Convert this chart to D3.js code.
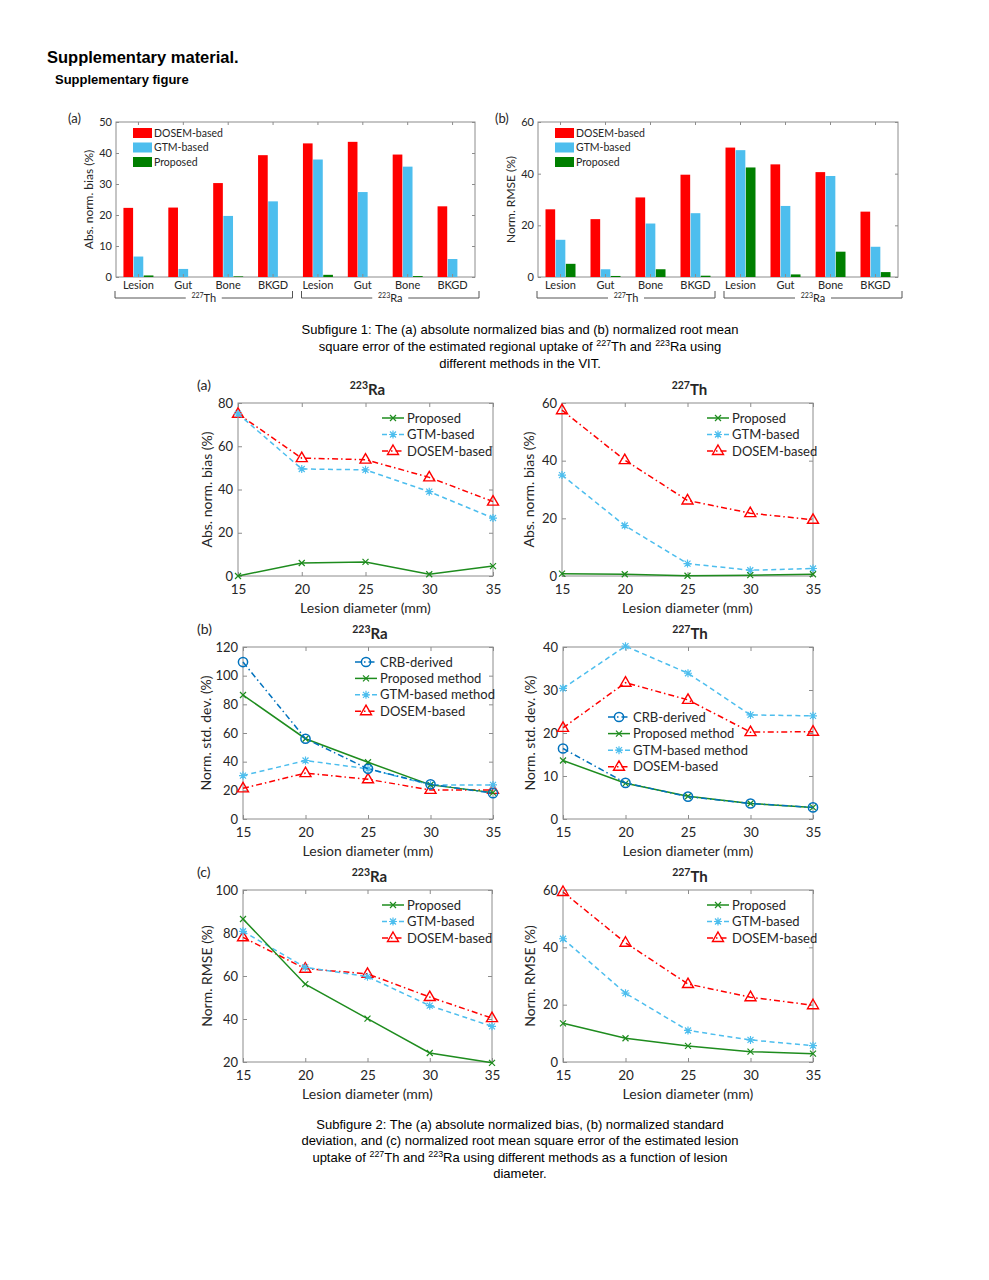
<!DOCTYPE html>
<html>
<head>
<meta charset="utf-8">
<style>
  body { margin: 0; background: #fff; }
  svg text { font-family: Lato, "Open Sans", sans-serif; fill: #262626; }
  svg text.doc { font-family: "Liberation Sans", Arial, sans-serif; fill: #000; }
</style>
</head>
<body>
<svg id="fig" width="989" height="1280"></svg>
<script src="https://d3js.org/d3.v7.min.js"></script>
<script>
// ---------------- data ----------------
// subfigure 1 (bar charts)
const regions = ["Lesion", "Gut", "Bone", "BKGD", "Lesion", "Gut", "Bone", "BKGD"];
const barMethods = ["DOSEM-based", "GTM-based", "Proposed"];
const biasDosem    = [22.3, 22.4, 30.3, 39.3, 43.1, 43.6, 39.5, 22.8];
const biasGtm      = [6.6, 2.6, 19.7, 24.4, 37.9, 27.4, 35.6, 5.8];
const biasProposed = [0.5, 0, 0.2, 0, 0.7, 0, 0.3, 0];
const rmseDosem    = [26.2, 22.4, 30.8, 39.6, 50.1, 43.6, 40.6, 25.3];
const rmseGtm      = [14.4, 3.0, 20.7, 24.7, 49.1, 27.5, 39.1, 11.7];
const rmseProposed = [5.1, 0.4, 3.0, 0.5, 42.4, 1.0, 9.8, 1.9];
const barTicksBias = [0, 10, 20, 30, 40, 50];
const barTicksRmse = [0, 20, 40, 60];

// subfigure 2 (line charts)
const diameters = [15, 20, 25, 30, 35];
const raBiasProposed = [0, 6.0, 6.5, 0.8, 4.6];
const raBiasGtm      = [75.0, 49.5, 49.1, 39.0, 26.8];
const raBiasDosem    = [75.0, 54.5, 53.8, 45.6, 34.4];
const thBiasProposed = [0.8, 0.6, 0.1, 0.3, 0.6];
const thBiasGtm      = [35.0, 17.5, 4.3, 2.0, 2.6];
const thBiasDosem    = [57.5, 40.2, 26.2, 21.8, 19.5];
const raStdCrb       = [109.5, 56.0, 35.0, 24.2, 18.0];
const raStdProposed  = [86.5, 56.0, 39.6, 23.8, 18.4];
const raStdGtm       = [30.3, 40.8, 35.0, 23.8, 23.8];
const raStdDosem     = [21.4, 32.0, 27.7, 20.3, 20.3];
const thStdCrb       = [16.4, 8.4, 5.2, 3.6, 2.7];
const thStdProposed  = [13.6, 8.3, 5.3, 3.6, 2.7];
const thStdGtm       = [30.4, 40.2, 33.9, 24.2, 24.0];
const thStdDosem     = [21.2, 31.7, 27.7, 20.2, 20.3];
const raRmseProposed = [86.5, 56.2, 40.2, 24.2, 19.6];
const raRmseGtm      = [80.8, 64.0, 59.7, 46.2, 36.6];
const raRmseDosem    = [78.0, 63.4, 61.0, 50.2, 40.4];
const thRmseProposed = [13.5, 8.3, 5.6, 3.6, 2.9];
const thRmseGtm      = [43.0, 24.0, 11.0, 7.7, 5.7];
const thRmseDosem    = [59.3, 41.6, 27.2, 22.6, 19.8];
const ticks80 = [0, 20, 40, 60, 80];
const ticks60 = [0, 20, 40, 60];
const ticks120 = [0, 20, 40, 60, 80, 100, 120];
const ticks40 = [0, 10, 20, 30, 40];
const ticks100 = [20, 40, 60, 80, 100];

// ---------------- drawing ----------------
const svg = d3.select("#fig");
const AX = "#8c8c8c";
const RED = "#ff0000", SKY = "#4dbeee", GRN = "#007f00", NAVY = "#0072bd", LGRN = "#1e8c1e";

// text with superscript parts: parts = [[str, isSup], ...]
function rich(t, parts, supSize, shift) {
  let up = false;
  parts.forEach(([s, isSup]) => {
    const sp = t.append("tspan").text(s);
    if (isSup) {
      sp.attr("font-size", supSize);
      if (!up) { sp.attr("dy", -shift); up = true; }
    } else if (up) { sp.attr("dy", shift); up = false; }
  });
  return t;
}

function docText(x, y, size, weight, anchor, parts) {
  const t = svg.append("text").attr("class", "doc").attr("x", x).attr("y", y)
    .attr("font-size", size).attr("font-weight", weight).attr("text-anchor", anchor);
  rich(t, parts, size * 0.68, size * 0.38);
}

function styleAxis(a) {
  a.select(".domain").remove();
  a.selectAll(".tick line").attr("stroke", AX);
}

function box(g, l, r, t, b) {
  g.append("rect").attr("x", l).attr("y", t).attr("width", r - l).attr("height", b - t)
    .attr("fill", "#fff").attr("stroke", AX).attr("stroke-width", 1);
}

function barChart(c) {
  const g = svg.append("g");
  const x = d3.scaleBand().domain(d3.range(regions.length)).range([c.l, c.r]);
  const xi = d3.scaleBand().domain(barMethods).range([-15, 15]).paddingInner(0.05);
  const y = d3.scaleLinear().domain([0, c.ymax]).range([c.b, c.t]);
  box(g, c.l, c.r, c.t, c.b);

  const colors = [RED, SKY, GRN];
  barMethods.forEach((m, k) => {
    g.append("g").selectAll("rect").data(c.series[k]).join("rect")
      .attr("x", (d, i) => x(i) + x.bandwidth() / 2 + xi(m))
      .attr("y", d => y(d))
      .attr("width", xi.bandwidth())
      .attr("height", d => c.b - y(d))
      .attr("fill", colors[k]);
  });

  const yl = g.append("g").attr("transform", `translate(${c.l},0)`)
    .call(d3.axisLeft(y).tickValues(c.ticks).tickSize(-3).tickPadding(4));
  yl.selectAll("text").attr("font-size", 11).attr("fill", "#262626");
  styleAxis(yl);
  const yr = g.append("g").attr("transform", `translate(${c.r},0)`)
    .call(d3.axisRight(y).tickValues(c.ticks).tickSize(-3).tickFormat(""));
  styleAxis(yr);
  const xb = g.append("g").attr("transform", `translate(0,${c.b})`)
    .call(d3.axisBottom(x).tickSize(-3).tickPadding(4).tickFormat(i => regions[i]));
  xb.selectAll("text").attr("font-size", 11).attr("fill", "#262626");
  styleAxis(xb);
  const xt = g.append("g").attr("transform", `translate(0,${c.t})`)
    .call(d3.axisTop(x).tickSize(-3).tickFormat(""));
  styleAxis(xt);

  // isotope brackets under the categories
  const groups = [["227", "Th", 0, 3], ["223", "Ra", 4, 7]];
  const by = c.b + 21;
  groups.forEach(([num, el, i0, i1], k) => {
    const x0 = x(i0) + (k === 0 ? -1 : 6);
    const x1 = x(i1) + x.bandwidth() + (k === 0 ? -3 : 4);
    g.append("path").attr("d", `M${x0},${by - 7}V${by}H${x1}V${by - 7}`)
      .attr("fill", "none").attr("stroke", "#555").attr("stroke-width", 1);
    const cx = (x0 + x1) / 2;
    g.append("rect").attr("x", cx - 18).attr("y", by - 6).attr("width", 36).attr("height", 12).attr("fill", "#fff");
    const t = g.append("text").attr("x", cx).attr("y", by + 4).attr("text-anchor", "middle").attr("font-size", 11);
    rich(t, [[num, true], [el, false]], 7, 4);
  });

  // legend
  barMethods.forEach((m, k) => {
    const yy = c.legY + k * 14.5;
    g.append("rect").attr("x", c.legX).attr("y", yy - 5).attr("width", 19).attr("height", 10).attr("fill", colors[k]);
    g.append("text").attr("x", c.legX + 21).attr("y", yy + 3.5).attr("font-size", 10.5).text(m);
  });

  g.append("text").attr("transform", `translate(${c.l - 27},${(c.t + c.b) / 2}) rotate(-90)`)
    .attr("text-anchor", "middle").attr("dy", "0.35em").attr("font-size", 12).text(c.ylabel);
  g.append("text").attr("x", c.tagX).attr("y", c.t + 1).attr("font-size", 13).text(c.tag);
}

function marker(g, type, color, cx, cy) {
  const p = {
    cross: "M-3,-3L3,3M-3,3L3,-3",
    star: "M-4,0H4M0,-4V4M-3,-3L3,3M-3,3L3,-3",
    tri: "M0,-6L5.5,3.5L-5.5,3.5Z"
  };
  if (type === "circle") {
    g.append("circle").attr("cx", cx).attr("cy", cy).attr("r", 4.6)
      .attr("fill", "none").attr("stroke", color).attr("stroke-width", 1.5);
  } else {
    g.append("path").attr("d", p[type]).attr("transform", `translate(${cx},${cy})`)
      .attr("fill", "none").attr("stroke", color).attr("stroke-width", type === "tri" ? 1.4 : 1.2);
  }
}

function lineChart(c) {
  const g = svg.append("g");
  const x = d3.scaleLinear().domain([15, 35]).range([c.l, c.r]);
  const y = d3.scaleLinear().domain([c.ticks[0], c.ticks[c.ticks.length - 1]]).range([c.b, c.t]);
  box(g, c.l, c.r, c.t, c.b);

  const yl = g.append("g").attr("transform", `translate(${c.l},0)`)
    .call(d3.axisLeft(y).tickValues(c.ticks).tickSize(-4).tickPadding(5));
  yl.selectAll("text").attr("font-size", 13).attr("fill", "#262626");
  styleAxis(yl);
  const yr = g.append("g").attr("transform", `translate(${c.r},0)`)
    .call(d3.axisRight(y).tickValues(c.ticks).tickSize(-4).tickFormat(""));
  styleAxis(yr);
  const xb = g.append("g").attr("transform", `translate(0,${c.b})`)
    .call(d3.axisBottom(x).tickValues(diameters).tickSize(-4).tickPadding(8));
  xb.selectAll("text").attr("font-size", 13.5).attr("fill", "#262626");
  styleAxis(xb);
  const xt = g.append("g").attr("transform", `translate(0,${c.t})`)
    .call(d3.axisTop(x).tickValues(diameters).tickSize(-4).tickFormat(""));
  styleAxis(xt);

  const line = d3.line().x((d, i) => x(diameters[i])).y(d => y(d));
  // draw last legend entry first so that proposed/CRB sit on top like the source
  const order = c.series.map((s, i) => i).reverse();
  order.forEach(i => {
    const s = c.series[i];
    g.append("path").attr("d", line(s.values)).attr("fill", "none")
      .attr("stroke", s.color).attr("stroke-width", 1.5).attr("stroke-dasharray", s.dash || null);
    s.values.forEach((v, j) => marker(g, s.marker, s.color, x(diameters[j]), y(v)));
  });

  // legend
  c.series.forEach((s, k) => {
    const yy = c.legY + k * c.legDy;
    g.append("line").attr("x1", c.legX).attr("x2", c.legX + 22).attr("y1", yy).attr("y2", yy)
      .attr("stroke", s.color).attr("stroke-width", 1.5).attr("stroke-dasharray", s.dash || null);
    marker(g, s.marker, s.color, c.legX + 11, yy);
    g.append("text").attr("x", c.legX + 25).attr("y", yy + 4.5).attr("font-size", 13).text(s.name);
  });

  g.append("text").attr("transform", `translate(${c.l - c.yoff},${(c.t + c.b) / 2}) rotate(-90)`)
    .attr("text-anchor", "middle").attr("dy", "0.35em").attr("font-size", 14).text(c.ylabel);
  g.append("text").attr("x", (c.l + c.r) / 2).attr("y", c.b + 37).attr("text-anchor", "middle")
    .attr("font-size", 14).text("Lesion diameter (mm)");
  const tt = g.append("text").attr("x", (c.l + c.r) / 2 + 2).attr("y", c.t - 8).attr("text-anchor", "middle")
    .attr("font-size", 15).attr("font-weight", "bold");
  rich(tt, [[c.iso[0], true], [c.iso[1], false]], 10.5, 6);
  if (c.tag) g.append("text").attr("x", 197).attr("y", c.t - 13).attr("font-size", 14).text(c.tag);
}

// ---------------- page ----------------
docText(47, 63, 16.5, "bold", "start", [["Supplementary material.", false]]);
docText(55, 84, 13, "bold", "start", [["Supplementary figure", false]]);

barChart({ l: 116, r: 475, t: 122, b: 277, ymax: 50, ticks: barTicksBias,
  series: [biasDosem, biasGtm, biasProposed], ylabel: "Abs. norm. bias (%)",
  legX: 133, legY: 133, tag: "(a)", tagX: 68 });
barChart({ l: 538, r: 898, t: 122, b: 277, ymax: 60, ticks: barTicksRmse,
  series: [rmseDosem, rmseGtm, rmseProposed], ylabel: "Norm. RMSE (%)",
  legX: 555, legY: 133, tag: "(b)", tagX: 495 });

docText(520, 334, 13, "normal", "middle", [["Subfigure 1: The (a) absolute normalized bias and (b) normalized root mean", false]]);
docText(520, 351, 13, "normal", "middle", [["square error of the estimated regional uptake of ", false], ["227", true], ["Th and ", false], ["223", true], ["Ra using", false]]);
docText(520, 368, 13, "normal", "middle", [["different methods in the VIT.", false]]);

const DASH = "5,3.5", DASHDOT = "6,3,1.5,3";
function three(p, gt, dm) {
  return [
    { name: "Proposed", values: p, color: LGRN, marker: "cross" },
    { name: "GTM-based", values: gt, color: SKY, marker: "star", dash: DASH },
    { name: "DOSEM-based", values: dm, color: RED, marker: "tri", dash: DASHDOT }
  ];
}
function four(cr, p, gt, dm) {
  return [
    { name: "CRB-derived", values: cr, color: NAVY, marker: "circle", dash: DASHDOT },
    { name: "Proposed method", values: p, color: LGRN, marker: "cross" },
    { name: "GTM-based method", values: gt, color: SKY, marker: "star", dash: DASH },
    { name: "DOSEM-based", values: dm, color: RED, marker: "tri", dash: DASHDOT }
  ];
}

lineChart({ l: 238, r: 493, t: 403, b: 576, ticks: ticks80, iso: ["223", "Ra"], tag: "(a)", yoff: 31,
  ylabel: "Abs. norm. bias (%)", series: three(raBiasProposed, raBiasGtm, raBiasDosem),
  legX: 382, legY: 418, legDy: 16.5 });
lineChart({ l: 562, r: 813, t: 403, b: 576, ticks: ticks60, iso: ["227", "Th"], yoff: 33,
  ylabel: "Abs. norm. bias (%)", series: three(thBiasProposed, thBiasGtm, thBiasDosem),
  legX: 707, legY: 418, legDy: 16.5 });
lineChart({ l: 243, r: 493, t: 647, b: 819, ticks: ticks120, iso: ["223", "Ra"], tag: "(b)", yoff: 37,
  ylabel: "Norm. std. dev. (%)", series: four(raStdCrb, raStdProposed, raStdGtm, raStdDosem),
  legX: 355, legY: 662, legDy: 16.4 });
lineChart({ l: 563, r: 813, t: 647, b: 819, ticks: ticks40, iso: ["227", "Th"], yoff: 33,
  ylabel: "Norm. std. dev. (%)", series: four(thStdCrb, thStdProposed, thStdGtm, thStdDosem),
  legX: 608, legY: 717, legDy: 16.6 });
lineChart({ l: 243, r: 492, t: 890, b: 1062, ticks: ticks100, iso: ["223", "Ra"], tag: "(c)", yoff: 36,
  ylabel: "Norm. RMSE (%)", series: three(raRmseProposed, raRmseGtm, raRmseDosem),
  legX: 382, legY: 905, legDy: 16.5 });
lineChart({ l: 563, r: 813, t: 890, b: 1062, ticks: ticks60, iso: ["227", "Th"], yoff: 33,
  ylabel: "Norm. RMSE (%)", series: three(thRmseProposed, thRmseGtm, thRmseDosem),
  legX: 707, legY: 905, legDy: 16.5 });

docText(520, 1129, 13, "normal", "middle", [["Subfigure 2: The (a) absolute normalized bias, (b) normalized standard", false]]);
docText(520, 1145, 13, "normal", "middle", [["deviation, and (c) normalized root mean square error of the estimated lesion", false]]);
docText(520, 1162, 13, "normal", "middle", [["uptake of ", false], ["227", true], ["Th and ", false], ["223", true], ["Ra using different methods as a function of lesion", false]]);
docText(520, 1178, 13, "normal", "middle", [["diameter.", false]]);
</script>
</body>
</html>
